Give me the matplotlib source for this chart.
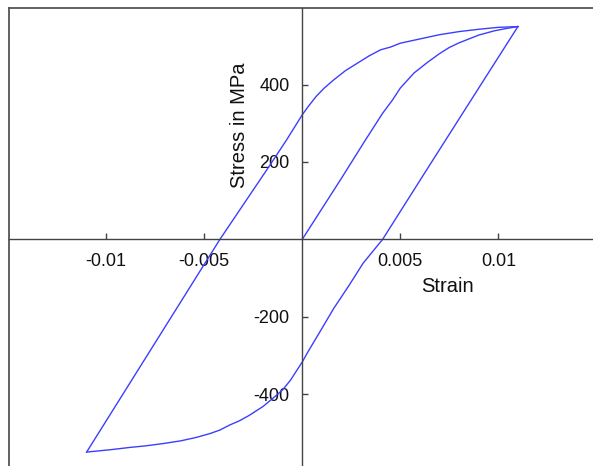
import matplotlib
matplotlib.use("Agg")
import matplotlib.pyplot as plt
from matplotlib.lines import Line2D

plt.rcParams['font.family'] = ['Liberation Sans', 'DejaVu Sans']

# Initial loading from the origin up to the peak
loading_strain = [0.0, 0.0010, 0.0020, 0.0032, 0.0041, 0.0046, 0.0050, 0.0057,
                  0.0064, 0.0070, 0.0075, 0.0080, 0.0084, 0.0090, 0.0098,
                  0.0104, 0.0110]
loading_stress = [0, 79, 158, 255, 326, 360, 391, 430,
                  458, 480, 496, 508, 516, 528, 539,
                  545, 550]

# Unloading from the peak down to the compressive extreme
unloading_strain = [0.0110, 0.0090, 0.0065, 0.0041, 0.0031, 0.0024, 0.0016,
                    0.0009, 0.0003, 0.0000, -0.0006, -0.0010, -0.0015,
                    -0.0020, -0.0027, -0.0032, -0.0037, -0.0042, -0.0047,
                    -0.0054, -0.0062, -0.0071, -0.0080, -0.0088, -0.0098,
                    -0.0110]
unloading_stress = [550, 391, 192, 0, -62, -118, -179,
                    -239, -290, -317, -364, -389, -411,
                    -432, -455, -469, -480, -493, -502,
                    -512, -521, -528, -534, -538, -544,
                    -550]

# Reloading from the compressive extreme back to the peak
reloading_strain = [-0.0110, -0.0042, -0.0017, -0.0008, 0.0000, 0.0003, 0.0007,
                    0.0011, 0.0016, 0.0022, 0.0028, 0.0034, 0.0040, 0.0045,
                    0.0050, 0.0060, 0.0070, 0.0080, 0.0090, 0.0100, 0.0110]
reloading_stress = [-550, 0, 188, 257, 322, 343, 369,
                    390, 412, 436, 455, 474, 490, 497,
                    507, 518, 529, 537, 543, 548, 550]

x_ticks = [-0.01, -0.005, 0.005, 0.01]
x_tick_labels = ["-0.01", "-0.005", "0.005", "0.01"]
y_ticks = [-400, -200, 200, 400]
y_tick_labels = ["-400", "-200", "200", "400"]

W, H = 593, 466
fig = plt.figure(figsize=(W / 100, H / 100), dpi=100)
ax = fig.add_axes([9 / W, 0.0, 1 - 9 / W, 1 - 8 / H])

ax.set_xlim(-0.01496, 0.01483)
ax.set_ylim(-586, 598)

line_color = '#3d3dff'
for xs, ys in [(loading_strain, loading_stress),
               (unloading_strain, unloading_stress),
               (reloading_strain, reloading_stress)]:
    ax.plot(xs, ys, color=line_color, lw=1.0, solid_joinstyle='round')

axis_color = '#444444'
# Axis lines through the origin
ax.spines['left'].set_position(('data', 0))
ax.spines['bottom'].set_position(('data', 0))
for s in ('left', 'bottom'):
    ax.spines[s].set_color(axis_color)
    ax.spines[s].set_linewidth(1.0)
ax.spines['right'].set_visible(False)
ax.spines['top'].set_visible(False)

# Outer frame on the top and left edges
frame_kw = dict(transform=ax.transAxes, color='#555555', lw=1.3, clip_on=False)
ax.add_line(Line2D([0, 1], [1, 1], **frame_kw))
ax.add_line(Line2D([0, 0], [0, 1], **frame_kw))

ax.set_xticks(x_ticks)
ax.set_xticklabels(x_tick_labels)
ax.set_yticks(y_ticks)
ax.set_yticklabels(y_tick_labels)
ax.tick_params(axis='x', direction='in', length=4.5, width=1.0, color=axis_color,
               labelsize=13, pad=10, labelcolor='#111111')
ax.tick_params(axis='y', direction='in', length=4.5, width=1.0, color=axis_color,
               labelsize=13, pad=9, labelcolor='#111111')

ax.text(0.00743, -123, "Strain", ha='center', va='center', fontsize=14.5,
        color='#111111')
ax.text(-0.00318, 296, "Stress in MPa", ha='center', va='center', fontsize=14.5,
        rotation=90, color='#111111')

fig.savefig("out.png", dpi=100)
